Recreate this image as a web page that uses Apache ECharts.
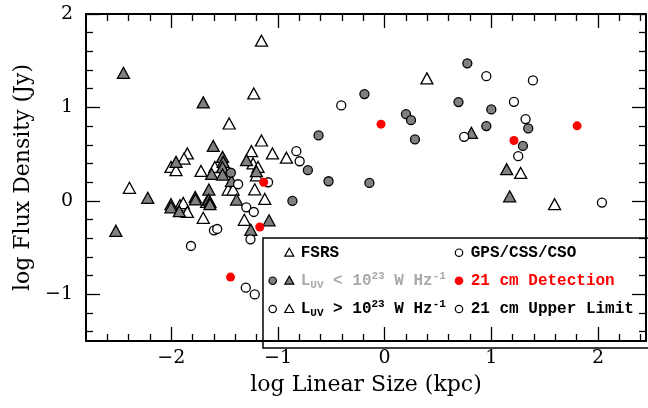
<!DOCTYPE html>
<html>
<head>
<meta charset="utf-8">
<script src="https://cdn.jsdelivr.net/npm/echarts@6/dist/echarts.min.js"></script>
<style>
  html, body { margin: 0; padding: 0; background: #fff; }
  #chart { width: 648px; height: 408px; }
</style>
</head>
<body>
<div id="chart"></div>
<script>
// tick values
const xMajor = [-2, -1, 0, 1, 2];
const xMinor = [-2.6, -2.4, -2.2, -1.8, -1.6, -1.4, -1.2, -0.8, -0.6, -0.4, -0.2,
                0.2, 0.4, 0.6, 0.8, 1.2, 1.4, 1.6, 1.8, 2.2, 2.4];
const yMajor = [-1, 0, 1, 2];
const yMinor = [-1.4, -1.2, -0.8, -0.6, -0.4, -0.2, 0.2, 0.4, 0.6, 0.8,
                1.2, 1.4, 1.6, 1.8];

// FSRS, L_UV > 1e23 (open triangles)
const fsrsHigh = [
  [-1.155, 1.714], [-1.227, 1.150], [-1.458, 0.828], [-1.155, 0.646], [-1.249, 0.532],
  [-1.052, 0.507], [-0.921, 0.462], [-1.234, 0.400], [-1.187, 0.363], [-1.202, 0.274],
  [-1.850, 0.507], [-1.881, 0.453], [-2.003, 0.363], [-1.956, 0.328], [-1.592, 0.363],
  [-1.722, 0.320], [-1.467, 0.121], [-1.421, 0.121], [-1.218, 0.124], [-2.393, 0.140],
  [-1.919, -0.047], [-1.888, -0.023], [-1.850, -0.119], [-1.669, -0.012], [-1.124, 0.020],
  [-1.701, -0.181], [-1.316, -0.203], [0.396, 1.311], [1.275, 0.299], [1.593, -0.036]
];

// FSRS, L_UV < 1e23 (grey triangles)
const fsrsLow = [
  [-2.449, 1.371], [-1.701, 1.054], [-1.607, 0.588], [-1.295, 0.435], [-1.956, 0.417],
  [-1.520, 0.471], [-1.514, 0.417], [-1.520, 0.360], [-1.622, 0.288], [-1.520, 0.282],
  [-1.202, 0.317], [-1.436, 0.213], [-1.648, 0.121], [-2.221, 0.033], [-2.003, -0.036],
  [-2.003, -0.069], [-1.925, -0.111], [-1.776, 0.042], [-1.774, 0.015], [-1.650, 0.012],
  [-1.638, -0.012], [-1.638, -0.036], [-1.389, 0.014], [-1.084, -0.208], [-1.255, -0.310],
  [-2.520, -0.320], [0.813, 0.728], [1.144, 0.339], [1.172, 0.049]
];

// GPS/CSS/CSO, L_UV > 1e23 (open circles)
const gpsHigh = [
  [-0.828, 0.532], [-0.797, 0.424], [-1.374, 0.178], [-1.093, 0.199], [-1.297, -0.069],
  [-1.227, -0.119], [-1.601, -0.315], [-1.570, -0.301], [-1.258, -0.412], [-1.816, -0.483],
  [-1.302, -0.929], [-1.218, -1.001], [-0.407, 1.021], [0.745, 0.685], [0.953, 1.335],
  [1.390, 1.289], [1.212, 1.060], [1.321, 0.875], [1.252, 0.478], [2.037, -0.018]
];

// GPS/CSS/CSO, L_UV < 1e23 (grey circles)
const gpsLow = [
  [-1.442, 0.301], [-0.865, -0.001], [-0.720, 0.328], [-0.620, 0.700], [-0.526, 0.210],
  [-0.190, 1.143], [-0.143, 0.192], [0.200, 0.928], [0.247, 0.864], [0.284, 0.657],
  [0.692, 1.057], [0.775, 1.472], [0.953, 0.800], [1.000, 0.979], [1.346, 0.775],
  [1.296, 0.588]
];

// 21 cm detections (red dots)
const detections = [
  [-0.034, 0.821], [1.804, 0.803], [1.212, 0.646], [-1.134, 0.199], [-1.171, -0.280],
  [-1.445, -0.816]
];

const GREY = '#808080';
const SERIF = '"DejaVu Serif", serif';
const MONO = '"Liberation Mono", monospace';

function xAx(position, ticks, len, withLine) {
  return {
    type: 'value', position: position, min: -2.8, max: 2.45,
    axisLine: { show: withLine, onZero: false, lineStyle: { color: '#000', width: 2 } },
    axisTick: { show: true, inside: true, length: len, customValues: ticks,
                lineStyle: { color: '#000', width: 1.3 } },
    axisLabel: { show: false },
    splitLine: { show: false }
  };
}

function yAx(position, ticks, len, withLine) {
  return {
    type: 'value', position: position, min: -1.5, max: 2,
    axisLine: { show: withLine, onZero: false, lineStyle: { color: '#000', width: 2 } },
    axisTick: { show: true, inside: true, length: len, customValues: ticks,
                lineStyle: { color: '#000', width: 1.3 } },
    axisLabel: { show: false },
    splitLine: { show: false }
  };
}

const minus = v => String(v).replace('-', '\u2212');

const xBottom = xAx('bottom', xMajor, 14, true);
xBottom.axisLabel = { show: true, customValues: xMajor, formatter: minus, margin: 8,
                      color: '#000', fontFamily: SERIF, fontSize: 19 };
xBottom.name = 'log Linear Size (kpc)';
xBottom.nameLocation = 'middle';
xBottom.nameGap = 33;
xBottom.nameTextStyle = { color: '#000', fontFamily: SERIF, fontSize: 22 };

const yLeft = yAx('left', yMajor, 14, true);
yLeft.axisLabel = { show: true, customValues: yMajor, formatter: minus, margin: 13,
                    color: '#000', fontFamily: SERIF, fontSize: 19 };
yLeft.name = 'log Flux Density (Jy)';
yLeft.nameLocation = 'middle';
yLeft.nameGap = 50;
yLeft.nameTextStyle = { color: '#000', fontFamily: SERIF, fontSize: 22 };

function scat(data, symbol, size, fill, border) {
  return {
    type: 'scatter', data: data, symbol: symbol, symbolSize: size,
    xAxisIndex: 0, yAxisIndex: 0,
    itemStyle: { color: fill, borderColor: border ? '#000' : fill,
                 borderWidth: border ? 1.3 : 0, opacity: 1 },
    emphasis: { disabled: true }
  };
}

// legend glyphs
function legTri(x, y, fill) {
  return { type: 'polygon', shape: { points: [[x - 4.5, y + 3.5], [x + 4.5, y + 3.5], [x, y - 4.5]] },
           style: { fill: fill, stroke: '#000', lineWidth: 1.2 } };
}
function legDot(x, y, fill, stroke) {
  return { type: 'circle', shape: { cx: x, cy: y, r: 3.7 },
           style: { fill: fill, stroke: stroke, lineWidth: 1.2 } };
}
function legText(x, y, text, color) {
  const base = { fontFamily: MONO, fontWeight: 'bold', fontSize: 16, fill: color, lineHeight: 20 };
  return {
    type: 'text', x: x, y: y,
    style: {
      text: text, fill: color, verticalAlign: 'middle', align: 'left',
      font: 'bold 16px ' + MONO,
      rich: {
        n: base,
        sub: Object.assign({}, base, { fontSize: 11, lineHeight: 12, verticalAlign: 'bottom' }),
        sup: Object.assign({}, base, { fontSize: 11, lineHeight: 12, verticalAlign: 'top' })
      }
    }
  };
}

const LUV_LOW = '{n|L}{sub|UV}{n| < 10}{sup|23}{n| W Hz}{sup|-1}';
const LUV_HIGH = '{n|L}{sub|UV}{n| > 10}{sup|23}{n| W Hz}{sup|-1}';

const chart = echarts.init(document.getElementById('chart'), null, { renderer: 'canvas' });
chart.setOption({
  animation: false,
  backgroundColor: '#fff',
  grid: { left: 86, right: 2, top: 14, bottom: 67 },
  xAxis: [xBottom, xAx('bottom', xMinor, 7, false), xAx('top', xMajor, 14, true), xAx('top', xMinor, 7, false)],
  yAxis: [yLeft, yAx('left', yMinor, 7, false), yAx('right', yMajor, 14, true), yAx('right', yMinor, 7, false)],
  series: [
    scat(fsrsHigh, 'triangle', [12, 11], '#fff', true),
    scat(fsrsLow, 'triangle', [12, 11], GREY, true),
    scat(gpsHigh, 'circle', 9, '#fff', true),
    scat(gpsLow, 'circle', 9, GREY, true),
    scat(detections, 'circle', 9, '#ff0000', false)
  ],
  graphic: [
    { type: 'rect', shape: { x: 263, y: 238, width: 390, height: 110 },
      style: { fill: 'none', stroke: '#000', lineWidth: 1.5 }, z: 10 },
    legTri(289.3, 252.7, '#fff'),
    legText(300.7, 252.7, '{n|FSRS}', '#000'),
    legDot(272.7, 280.7, GREY, '#000'),
    legTri(289.3, 280.7, GREY),
    legText(300.7, 280.7, LUV_LOW, '#aaaaaa'),
    legDot(272.7, 309, '#fff', '#000'),
    legTri(289.3, 309, '#fff'),
    legText(300.7, 309, LUV_HIGH, '#000'),
    legDot(459, 252.7, '#fff', '#000'),
    legText(470.7, 252.7, '{n|GPS/CSS/CSO}', '#000'),
    legDot(459, 280.7, '#ff0000', '#ff0000'),
    legText(470.7, 280.7, '{n|21 cm Detection}', '#ff0000'),
    legDot(459, 309, '#fff', '#000'),
    legText(470.7, 309, '{n|21 cm Upper Limit}', '#000')
  ]
});
</script>
</body>
</html>
